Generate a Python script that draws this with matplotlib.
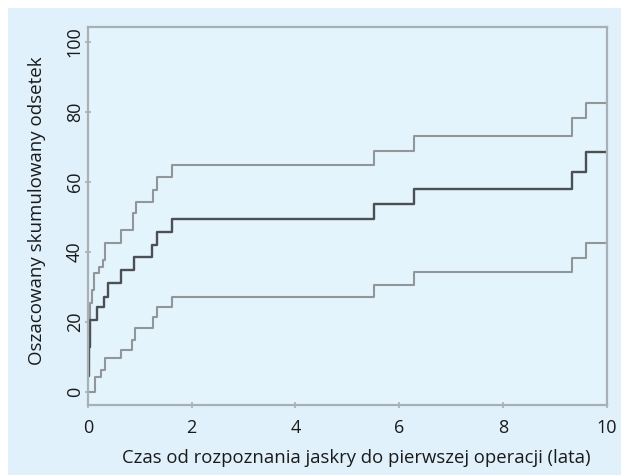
import matplotlib
matplotlib.use("Agg")
import matplotlib.pyplot as plt

# cumulative incidence estimate (step function) with confidence limits
t_est = [0, 0.01, 0.04, 0.17, 0.30, 0.39, 0.64, 0.88, 1.23, 1.33, 1.62, 5.52, 6.29, 9.33, 9.60, 10]
y_est = [4.5, 12.9, 20.5, 24.3, 27.1, 31.0, 34.9, 38.6, 41.9, 45.7, 49.4, 53.5, 57.8, 62.9, 68.4, 68.4]

t_hi = [0, 0.01, 0.03, 0.07, 0.12, 0.22, 0.28, 0.32, 0.64, 0.87, 0.92, 1.25, 1.33, 1.62, 5.52, 6.29, 9.33, 9.60, 10]
y_hi = [9.0, 17.0, 25.3, 29.0, 33.8, 35.5, 37.6, 42.4, 46.2, 51.0, 54.1, 57.6, 61.4, 64.8, 68.9, 73.1, 78.1, 82.6, 82.6]

t_lo = [0, 0.13, 0.25, 0.32, 0.64, 0.85, 0.90, 1.25, 1.33, 1.62, 5.52, 6.29, 9.33, 9.60, 10]
y_lo = [0.0, 4.3, 6.2, 9.5, 11.9, 14.8, 18.1, 21.4, 24.3, 27.0, 30.5, 34.1, 38.1, 42.4, 42.4]

x_ticks = [0, 2, 4, 6, 8, 10]
y_ticks = [0, 20, 40, 60, 80, 100]

BG = "#e0f1fb"
plt.rcParams["font.family"] = ["Open Sans", "DejaVu Sans"]

fig = plt.figure(figsize=(6.21, 4.75), dpi=100, facecolor="white")
fig.patches.append(plt.Rectangle((8 / 621, 0), 1, 1 - 8 / 475, transform=fig.transFigure,
                                 facecolor=BG, edgecolor="none", zorder=-10))
ax = fig.add_axes([88 / 621, 1 - 405 / 475, (606.7 - 88) / 621, (405 - 27) / 475])
ax.set_facecolor("#e3f4fd")

ax.step(t_hi, y_hi, where="post", color="#939699", lw=1.5)
ax.step(t_lo, y_lo, where="post", color="#939699", lw=1.5)
ax.step(t_est, y_est, where="post", color="#4c5053", lw=1.7)

ax.set_xlim(0, 10)
ax.set_ylim(-3.8, 104.2)
ax.set_xticks(x_ticks)
ax.set_yticks(y_ticks)
ax.set_yticklabels([str(v) for v in y_ticks], rotation=90, va="center")
ax.tick_params(axis="both", labelsize=13, direction="inout", length=4, width=1.2,
               colors="#a9b0b5", labelcolor="#1a1a1a")
ax.tick_params(axis="y", pad=1)
ax.tick_params(axis="x", pad=8)
for s in ax.spines.values():
    s.set_color("#a9b0b5")
    s.set_linewidth(1.6)

ax.set_xlabel("Czas od rozpoznania jaskry do pierwszej operacji (lata)", fontsize=13.3, color="#1a1a1a")
ax.set_ylabel("Oszacowany skumulowany odsetek", fontsize=13.5, color="#1a1a1a")
ax.xaxis.set_label_coords(0.517, -0.116)
ax.yaxis.set_label_coords(-0.081, 0.513)

fig.savefig("out.png", dpi=100, facecolor="white")
